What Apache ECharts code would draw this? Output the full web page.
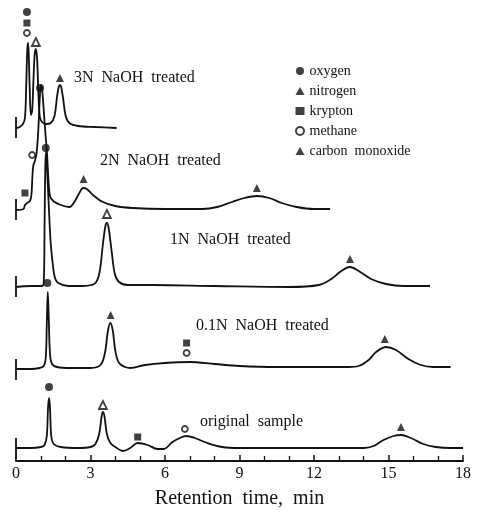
<!DOCTYPE html>
<html><head><meta charset="utf-8">
<script src="https://cdn.jsdelivr.net/npm/echarts@6/dist/echarts.min.js"></script>
<style>html,body{margin:0;padding:0;background:#fff}#c{width:481px;height:517px}</style>
</head><body><div id="c"></div>
<script>
// ---- data ----
const traceNames = ['3N  NaOH  treated', '2N  NaOH  treated', '1N  NaOH  treated', '0.1N  NaOH  treated', 'original  sample'];
const traceOffsets = [334, 252, 175, 92, 13];   // vertical offset of each trace's baseline
const xTickLabels = [0, 3, 6, 9, 12, 15, 18];

const trace3N = [[0,-1],[0.15,0],[0.28,3],[0.36,9],[0.41,40],[0.45,75],[0.48,84],[0.51,75],[0.55,40],[0.6,12],[0.65,16],[0.7,45],[0.75,72],[0.8,78],[0.85,68],[0.9,35],[0.96,10],[1.05,5],[1.2,3],[1.4,4],[1.55,11],[1.65,30],[1.72,40],[1.77,42],[1.82,40],[1.9,28],[2.0,11],[2.15,4],[2.5,1],[3.2,0],[4.05,-1]];
const trace2N = [[0,-1],[0.3,0],[0.36,4],[0.45,6],[0.56,8],[0.62,14],[0.66,32],[0.7,44],[0.76,48],[0.83,56],[0.9,80],[0.96,112],[1.0,124],[1.04,122],[1.1,105],[1.17,80],[1.25,55],[1.31,28],[1.37,13],[1.5,8],[1.8,4],[2.15,2],[2.35,7],[2.55,16],[2.7,21],[2.85,20],[3.1,14],[3.5,7],[4.0,3],[4.7,1],[6,0],[7.5,0],[8.1,2],[8.7,7],[9.2,11],[9.7,13],[10.2,11],[10.7,6],[11.3,2],[12,0],[12.65,0]];
const trace1N = [[0,-1],[0.6,0],[1.05,0],[1.12,5],[1.15,60],[1.18,120],[1.21,134],[1.25,118],[1.32,80],[1.4,42],[1.5,18],[1.57,8],[1.7,3],[2.1,0],[2.6,0],[3.15,2],[3.35,12],[3.5,42],[3.6,60],[3.66,63],[3.73,58],[3.85,35],[3.98,12],[4.15,4],[4.5,1],[5.5,1],[8,0],[11,-1],[12.2,1],[12.7,7],[13.1,15],[13.45,19],[13.8,15],[14.3,7],[14.9,2],[15.6,0],[16.67,0]];
const trace01N = [[0,0],[0.6,0],[0.95,1],[1.12,3],[1.2,12],[1.24,45],[1.28,77],[1.32,50],[1.37,15],[1.45,5],[1.65,2],[2.2,1],[3.0,1],[3.4,4],[3.58,16],[3.7,38],[3.8,46],[3.9,38],[4.0,18],[4.15,6],[4.4,2],[4.6,1],[5.2,4],[6.0,6],[7.0,7],[8.0,5],[9.0,3],[10.5,2],[12,2],[13.4,2],[13.8,3],[14.2,9],[14.5,17],[14.9,22],[15.3,19],[15.8,10],[16.3,4],[16.8,2],[17.5,2]];
const traceOrig = [[0,0],[0.6,0],[1.0,1],[1.15,3],[1.24,12],[1.29,40],[1.33,50],[1.37,40],[1.42,12],[1.52,4],[1.8,1],[2.5,0],[3.0,1],[3.2,4],[3.35,14],[3.45,32],[3.5,36],[3.56,32],[3.66,14],[3.8,5],[4.0,1],[4.3,-3],[4.6,0],[4.9,5],[5.3,3],[5.7,-1],[5.95,-1],[6.3,6],[6.6,10],[6.85,12],[7.2,10],[7.7,5],[8.3,1],[9,0],[12,0],[14,0],[14.4,2],[14.8,8],[15.2,12],[15.5,13],[15.9,10],[16.4,4],[16.9,1],[17.5,0],[18,0]];
const traces = [trace3N, trace2N, trace1N, trace01N, traceOrig];

// peak identification marks: [traceIndex, time, height above baseline, open?]
const oxygenMarks   = [[0,0.44,115],[1,0.97,121],[2,1.2,138],[3,1.26,86],[4,1.33,61]];
const nitrogenMarks = [[0,0.8,85,1],[1,2.72,30,0],[2,3.66,72,1],[3,3.81,54,0],[4,3.5,43,1]];
const kryptonMarks  = [[0,0.44,104],[1,0.36,16],[3,6.87,26],[4,4.9,11]];
const methaneMarks  = [[0,0.44,94],[1,0.65,54],[3,6.87,16],[4,6.8,19]];
const coMarks       = [[0,1.77,49],[1,9.7,21],[2,13.45,27],[3,14.85,30],[4,15.5,21]];

// ---- build ----
const FONT = '"Liberation Serif", "Times New Roman", serif';
const series = [];
traces.forEach((tr, i) => {
  const off = traceOffsets[i];
  series.push({
    type: 'line', name: 'trace' + i, data: tr.map(p => [p[0], p[1] + off]),
    smooth: 0.35, symbol: 'none', silent: true,
    lineStyle: { color: '#111', width: 1.8 }
  });
  series.push({
    type: 'line', name: 'tick' + i, data: [[0, Math.max(0, off - 11)], [0, off + 10]],
    symbol: 'none', silent: true, lineStyle: { color: '#111', width: 1.8 }
  });
});
function markSeries(name, marks, symbol, size, openable) {
  return {
    type: 'scatter', name: name, symbol: symbol, symbolSize: size,
    itemStyle: { color: '#111', borderColor: '#111', borderWidth: openable === 'open' ? 1.8 : 0, ...(openable === 'open' ? { color: '#fff' } : {}) },
    data: marks.map(m => {
      const d = { value: [m[1], traceOffsets[m[0]] + m[2]] };
      if (openable === 'mixed' && m[3]) d.itemStyle = { color: '#fff', borderColor: '#111', borderWidth: 1.8 };
      return d;
    }),
    z: 5
  };
}
series.push(markSeries('oxygen', oxygenMarks, 'circle', 8));
series.push(markSeries('nitrogen', nitrogenMarks, 'triangle', 8, 'mixed'));
series.push(markSeries('krypton', kryptonMarks, 'rect', 7));
series.push(markSeries('methane', methaneMarks, 'circle', 6, 'open'));
series.push(markSeries('carbon  monoxide', coMarks, 'triangle', 8));

const labelPos = [[74, 79], [100, 162], [170, 241], [196, 327], [200, 423]];

const chart = echarts.init(document.getElementById('c'));
chart.setOption({
  animation: false,
  backgroundColor: '#fff',
  grid: { left: 16, right: 18, top: 0, bottom: 56 },
  xAxis: {
    type: 'value', min: 0, max: 18, interval: 3,
    name: 'Retention  time,  min', nameLocation: 'middle', nameGap: 28,
    nameTextStyle: { fontFamily: FONT, fontSize: 20, color: '#111' },
    axisLine: { show: true, lineStyle: { color: '#111', width: 1.8 } },
    axisTick: { show: true, inside: true, length: 6, lineStyle: { color: '#111', width: 1.5 } },
    minorTick: { show: true, splitNumber: 3, length: 5, lineStyle: { color: '#111', width: 1.3 } },
    splitLine: { show: false },
    axisLabel: { fontFamily: FONT, fontSize: 16, color: '#111', margin: 5,
      formatter: v => xTickLabels.includes(v) ? String(v) : '' }
  },
  yAxis: { type: 'value', min: 0, max: 461, show: false, splitLine: { show: false } },
  legend: {
    orient: 'vertical', left: 290, top: 58, itemWidth: 9, itemHeight: 8, itemGap: 4,
    data: ['oxygen', 'nitrogen', 'krypton', 'methane', 'carbon  monoxide'],
    textStyle: { fontFamily: FONT, fontSize: 14, color: '#111', lineHeight: 16 },
    selectedMode: false
  },
  graphic: traceNames.map((t, i) => ({
    type: 'text', left: labelPos[i][0], top: labelPos[i][1] - 9, silent: true,
    style: { text: t, font: '16px ' + FONT, fill: '#111' }
  })),
  series: series
});
</script></body></html>
